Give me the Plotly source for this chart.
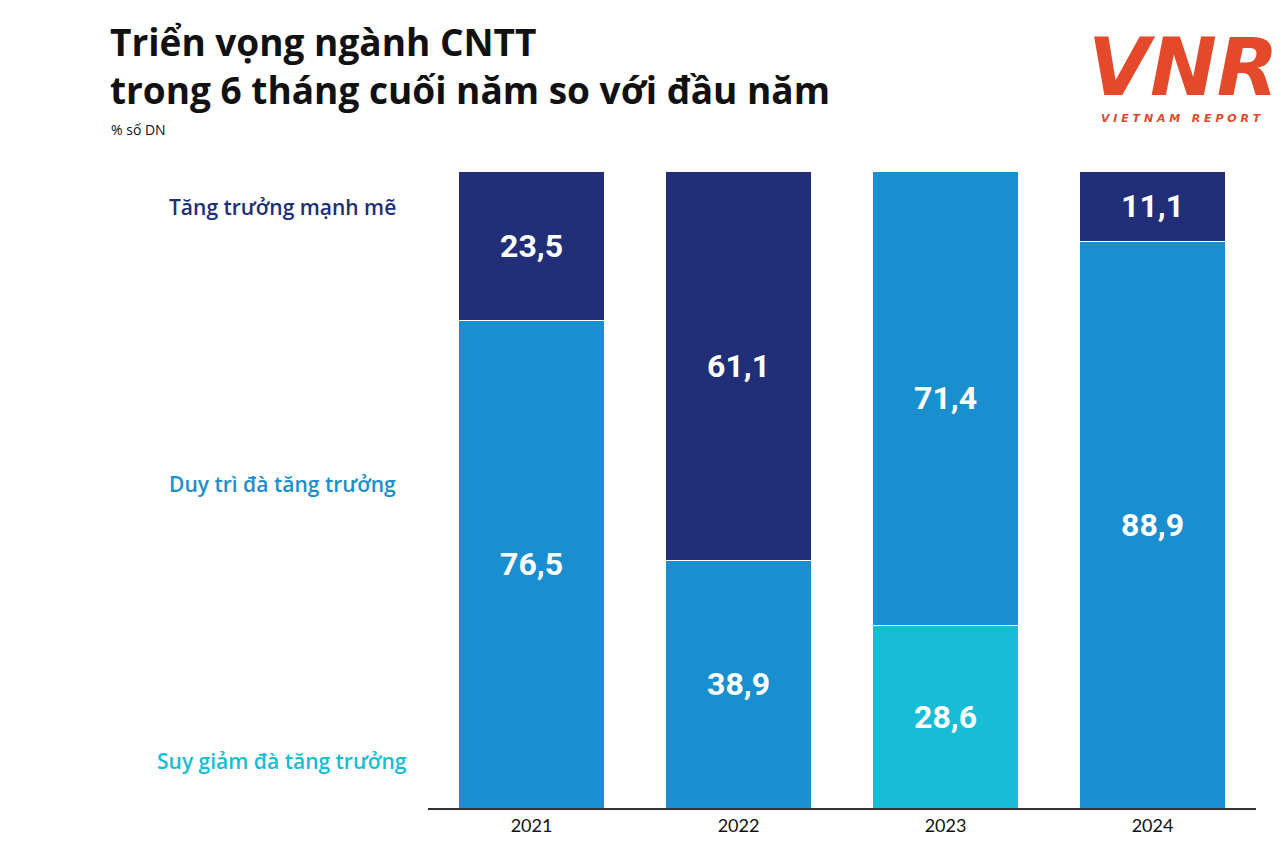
import plotly.graph_objects as go

years = ["2021", "2022", "2023", "2024"]
series_names = ["Suy giảm đà tăng trưởng", "Duy trì đà tăng trưởng", "Tăng trưởng mạnh mẽ"]
suy_giam = [0, 0, 28.6, 0]
duy_tri = [76.5, 38.9, 71.4, 88.9]
manh_me = [23.5, 61.1, 0, 11.1]
colors = ["#17BCD6", "#1A8FD0", "#212E78"]

W, H = 1280, 862
OFF = 8  # page offset of the figure
L, R, T, B = 420, 32, 163, 62
pw, ph = W - L - R, H - T - B

def px_x(x):
    return (x - OFF - L) / pw

def px_y(y):
    return (H - B - (y - OFF)) / ph

def fmt(v):
    return ("%.1f" % v).replace(".", ",") if v > 0 else ""

fig = go.Figure()
for name, vals, col in zip(series_names, [suy_giam, duy_tri, manh_me], colors):
    fig.add_trace(go.Bar(
        x=years, y=vals, name=name,
        marker=dict(color=col, line=dict(color="white", width=1)),
        text=[fmt(v) for v in vals],
        textposition="inside", insidetextanchor="middle",
        textangle=0,
        textfont=dict(family="Roboto, sans-serif", size=32, color="white", weight="bold"),
        hoverinfo="skip",
    ))

annotations = []
label_pos = [(761, series_names[0], colors[0]), (484, series_names[1], colors[1]), (207, series_names[2], colors[2])]
for ypx, txt, col in label_pos:
    annotations.append(dict(xref="paper", yref="paper", x=px_x(282), y=px_y(ypx),
                            text=txt, showarrow=False, xanchor="center", yanchor="middle",
                            font=dict(family="Open Sans, sans-serif", size=21, color=col, weight=600)))
annotations.append(dict(xref="paper", yref="paper", x=px_x(108), y=px_y(14),
                        text="Triển vọng ngành CNTT<br>trong 6 tháng cuối năm so với đầu năm",
                        showarrow=False, xanchor="left", yanchor="top", align="left",
                        font=dict(family="Open Sans, sans-serif", size=37, color="#111111", weight="bold")))
annotations.append(dict(xref="paper", yref="paper", x=px_x(109), y=px_y(129),
                        text="% số DN", showarrow=False, xanchor="left", yanchor="middle",
                        font=dict(family="Open Sans, sans-serif", size=14, color="#111111")))
annotations.append(dict(xref="paper", yref="paper", x=px_x(1183), y=px_y(68),
                        text="<b><i>VNR</i></b>", showarrow=False, xanchor="center", yanchor="middle",
                        font=dict(family="DejaVu Sans, sans-serif", size=80, color="#E4492A")))
annotations.append(dict(xref="paper", yref="paper", x=px_x(1181), y=px_y(119),
                        text="<b><i>V I E T N A M   R E P O R T</i></b>", showarrow=False,
                        xanchor="center", yanchor="middle",
                        font=dict(family="DejaVu Sans, sans-serif", size=11, color="#E4492A")))

fig.update_layout(
    width=W, height=H,
    margin=dict(l=L, r=R, t=T, b=B),
    barmode="stack", bargap=0.29,
    plot_bgcolor="white", paper_bgcolor="white",
    showlegend=False,
    annotations=annotations,
)
fig.update_xaxes(showline=True, linecolor="#333333", linewidth=2, ticks="",
                 tickfont=dict(family="Lato, sans-serif", size=18, color="#111111"),
                 showgrid=False)
fig.update_yaxes(range=[0, 100], visible=False, showgrid=False)

fig.write_html("out.html")
